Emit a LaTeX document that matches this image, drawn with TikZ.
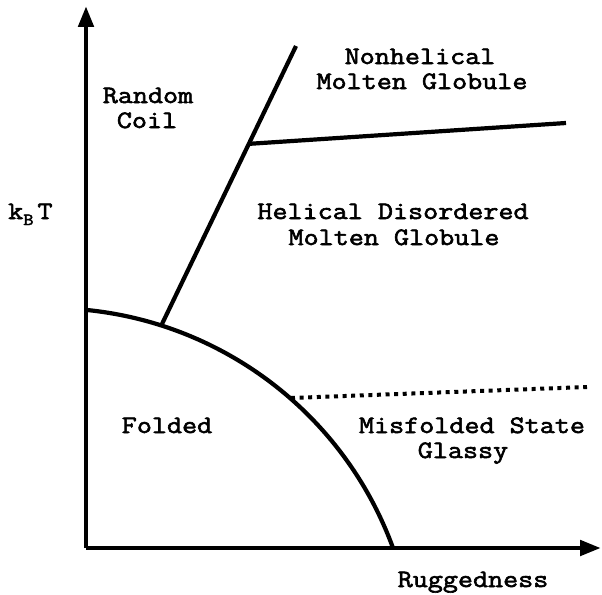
\documentclass[tikz,border=0pt]{standalone}
\usepackage{fontspec}
\newfontfamily\labfont[FakeBold=2.4,FakeStretch=1.17]{Latin Modern Mono}
\usetikzlibrary{arrows.meta,calc}
\begin{document}
\begin{tikzpicture}[x=1pt,y=-1pt,
  lab/.style={font=\fontsize{25}{25}\selectfont\labfont,anchor=base,inner sep=0pt},
  axis/.style={line width=4.8pt,-{Triangle[length=21pt,width=15pt]}},
  bound/.style={line width=4.2pt},
  dotline/.style={line width=4pt,dash pattern=on 4pt off 4.6pt}]
\useasboundingbox (0,0) rectangle (602,594);
% axes
\coordinate (O) at (86,548);
\coordinate (ytop) at (86,6);
\coordinate (xend) at (601,548);
\draw[axis] (O) -- (ytop);
\draw[axis] (O) -- (xend);
% folded boundary (circular arc)
\coordinate (c0) at (87,310);
\draw[bound] (c0) arc[start angle=-84.2, end angle=-20, radius=365] coordinate (c1);
\coordinate (p1) at (162,324);
\coordinate (p2) at (296,46);
\coordinate (j) at ($(p1)!0.648!(p2)$);
\coordinate (q2) at (566,123);
\coordinate (d1) at (291,398);
\coordinate (d2) at (587,387);
\draw[bound] (p1) -- (p2);
\draw[bound] (j) -- (q2);
\draw[dotline] (d1) -- (d2);
% labels
\node[lab] (rc1) at (148,103) {Random};
\node[lab] (rc2) at (147,128) {Coil};
\node[lab] (nh1) at (420,64) {Nonhelical};
\node[lab] (nh2) at (422,89) {Molten Globule};
\node[lab] (hd1) at (393,219) {Helical Disordered};
\node[lab] (hd2) at (394,245) {Molten Globule};
\node[lab] (fo) at (167,433) {Folded};
\node[lab] (ms1) at (472,433) {Misfolded State};
\node[lab] (ms2) at (463,458) {Glassy};
\node[lab] (rg) at (473,587) {Ruggedness};
\node[lab,anchor=base west] (kt) at (8,219) {k\raisebox{-6pt}{\fontsize{17}{17}\selectfont B}\kern4ptT};
\end{tikzpicture}
\end{document}
